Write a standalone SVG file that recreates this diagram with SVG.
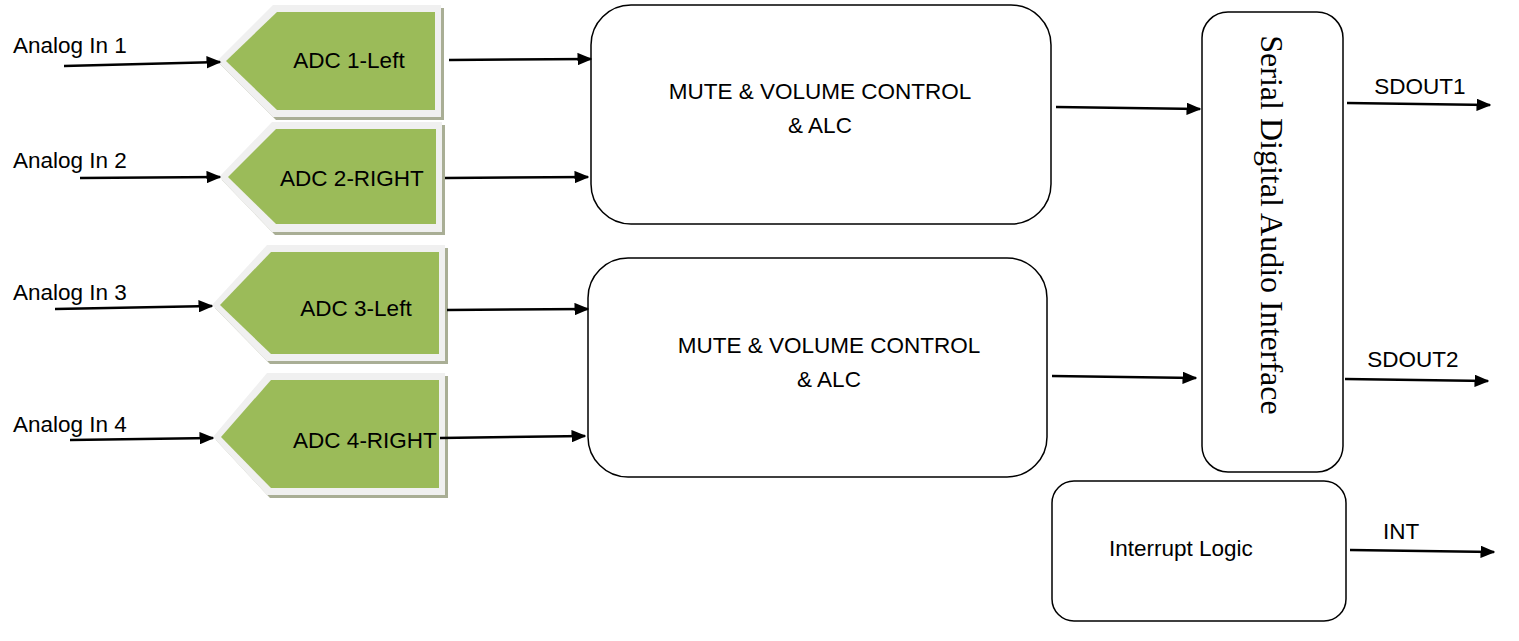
<svg xmlns="http://www.w3.org/2000/svg" width="1519" height="641" viewBox="0 0 1519 641">
<style>
.t{font-family:"Liberation Sans",Arial,sans-serif;font-size:22.5px;fill:#000}
.m{text-anchor:middle}
.box{fill:#fff;stroke:#000;stroke-width:1.5}
.sh{fill:#a9ae95}
.rim{fill:#f0f0f0}
.grn{fill:#9bbb59}
.c{stroke:#000;stroke-width:2.5;fill:none;marker-end:url(#ah)}
</style>
<defs>
<marker id="ah" viewBox="0 0 10 10" refX="9" refY="5" markerWidth="6" markerHeight="5" orient="auto" markerUnits="strokeWidth" preserveAspectRatio="none">
<path d="M0,0 L10,5 L0,10 z" fill="#000"/>
</marker>
</defs>
<rect width="1519" height="641" fill="#fff"/>

<g id="labels">
<text class="t" x="13" y="53">Analog In 1</text>
<text class="t" x="13" y="168">Analog In 2</text>
<text class="t" x="13" y="300">Analog In 3</text>
<text class="t" x="13" y="432">Analog In 4</text>
<text class="t m" x="1420" y="94">SDOUT1</text>
<text class="t m" x="1413" y="367">SDOUT2</text>
<text class="t m" x="1401" y="539">INT</text>
</g>

<g id="adc1">
<polygon class="sh" points="276,8 444,8 444,120 276,120 220,64"/>
<polygon class="rim" points="273,5 441,5 441,117 273,117 217,61"/>
<polygon class="grn" points="277,12 435,12 435,110 277,110 226,61"/>
<text class="t m" x="349" y="68">ADC 1-Left</text>
</g>
<g id="adc2">
<polygon class="sh" points="275,125 445,125 445,235 275,235 222,180"/>
<polygon class="rim" points="272,122 442,122 442,232 272,232 219,177"/>
<polygon class="grn" points="276,129 436,129 436,224 276,224 228,177"/>
<text class="t m" x="352" y="186">ADC 2-RIGHT</text>
</g>
<g id="adc3">
<polygon class="sh" points="270,248 448,248 448,364 270,364 215,308"/>
<polygon class="rim" points="267,245 445,245 445,361 267,361 212,305"/>
<polygon class="grn" points="271,252 439,252 439,354 271,354 220,305"/>
<text class="t m" x="356" y="316">ADC 3-Left</text>
</g>
<g id="adc4">
<polygon class="sh" points="270,376 448,376 448,498 270,498 216,440"/>
<polygon class="rim" points="267,373 445,373 445,495 267,495 213,437"/>
<polygon class="grn" points="271,380 439,380 439,488 271,488 221,437"/>
<text class="t m" x="365" y="448">ADC 4-RIGHT</text>
</g>

<g id="mute1">
<rect class="box" x="591" y="5" width="460" height="219" rx="40" ry="40"/>
<text class="t m" x="820" y="99">MUTE &amp; VOLUME CONTROL</text>
<text class="t m" x="820" y="133">&amp; ALC</text>
</g>
<g id="mute2">
<rect class="box" x="588" y="258" width="459" height="219" rx="40" ry="40"/>
<text class="t m" x="829" y="353">MUTE &amp; VOLUME CONTROL</text>
<text class="t m" x="829" y="387">&amp; ALC</text>
</g>
<g id="serial">
<rect class="box" x="1202" y="12" width="141" height="460" rx="26" ry="26"/>
<text transform="translate(1261,225) rotate(90)" text-anchor="middle" font-family="'Liberation Serif','Times New Roman',serif" font-size="32" fill="#000">Serial Digital Audio Interface</text>
</g>
<g id="interrupt">
<rect class="box" x="1052" y="481" width="294" height="140" rx="22" ry="22"/>
<text class="t" x="1109" y="556">Interrupt Logic</text>
</g>

<g id="connectors">
<line class="c" x1="64" y1="66" x2="220" y2="62"/>
<line class="c" x1="80" y1="178" x2="220" y2="177"/>
<line class="c" x1="55" y1="309" x2="212" y2="306"/>
<line class="c" x1="70" y1="440" x2="213" y2="438"/>
<line class="c" x1="449" y1="60" x2="591" y2="59"/>
<line class="c" x1="445" y1="178" x2="588" y2="177"/>
<line class="c" x1="447" y1="310" x2="588" y2="309"/>
<line class="c" x1="440" y1="438" x2="585" y2="436"/>
<line class="c" x1="1056" y1="107" x2="1200" y2="109"/>
<line class="c" x1="1052" y1="376" x2="1196" y2="378"/>
<line class="c" x1="1347" y1="103" x2="1490" y2="105"/>
<line class="c" x1="1345" y1="379" x2="1488" y2="381"/>
<line class="c" x1="1350" y1="550" x2="1494" y2="552"/>
</g>
</svg>
